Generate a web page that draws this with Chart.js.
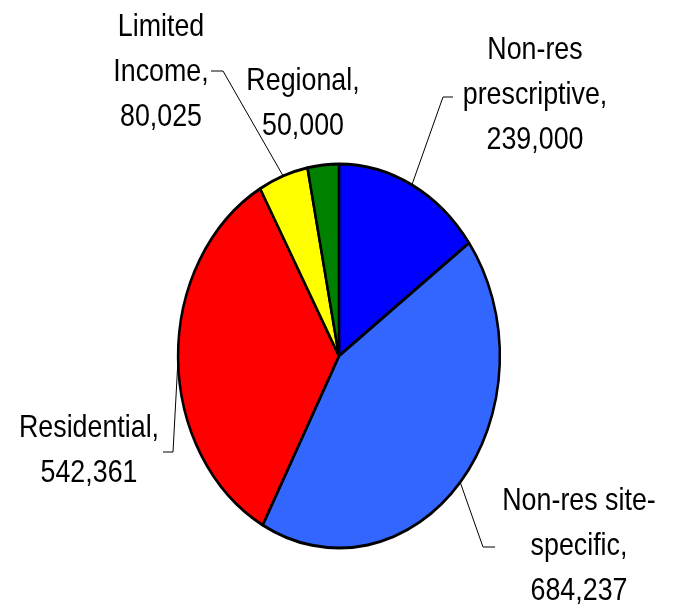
<!DOCTYPE html>
<html lang="en">
<head>
    <meta charset="UTF-8">
    <title>Program Budget Pie</title>
    <script src="https://cdn.jsdelivr.net/npm/chart.js"></script>
    <style>
        html, body { margin: 0; padding: 0; background: #fff; }
        canvas { display: block; }
    </style>
</head>
<body>
    <canvas id="pieChart" width="674" height="606"></canvas>

    <script>
        // Slices, clockwise from 12 o'clock
        const categories = ['Non-res\nprescriptive', 'Non-res site-\nspecific', 'Residential', 'Limited\nIncome', 'Regional'];
        const budgets = [239000, 684237, 542361, 80025, 50000];
        const sliceColors = ['#0000ff', '#3366ff', '#ff0000', '#ffff00', '#008000'];

        // The pie is squeezed horizontally into an ellipse
        const squeeze = 0.838;

        // Label placement: text centre x, first baseline, elbow of the leader line, end of the tick
        const labelLayout = [
            { x: 535, y: 59,  elbow: [443, 97],  tick: [453, 97] },
            { x: 579, y: 510, elbow: [483, 547], tick: [495, 547] },
            { x: 89,  y: 437, elbow: [173, 452], tick: [163, 452] },
            { x: 161, y: 36,  elbow: [223, 71],  tick: [211, 71] },
            { x: 303, y: 90,  elbow: null,       tick: null }
        ];
        const lineHeight = 45;

        const squeezePie = {
            id: 'squeezePie',
            beforeDatasetsDraw(chart) {
                chart.ctx.save();
                chart.ctx.scale(squeeze, 1);
            },
            afterDatasetsDraw(chart) {
                chart.ctx.restore();
            }
        };

        const sliceLabels = {
            id: 'sliceLabels',
            afterDraw(chart) {
                const ctx = chart.ctx;
                const arcs = chart.getDatasetMeta(0).data;
                arcs.forEach((arc, i) => {
                    const lay = labelLayout[i];
                    // leader line from the rim at the slice's middle angle
                    if (lay.elbow) {
                        const mid = (arc.startAngle + arc.endAngle) / 2;
                        const ex = (arc.x + Math.cos(mid) * arc.outerRadius) * squeeze;
                        const ey = arc.y + Math.sin(mid) * arc.outerRadius;
                        ctx.save();
                        ctx.strokeStyle = '#000';
                        ctx.lineWidth = 1;
                        ctx.beginPath();
                        ctx.moveTo(ex, ey);
                        ctx.lineTo(lay.elbow[0], lay.elbow[1]);
                        ctx.lineTo(lay.tick[0], lay.tick[1]);
                        ctx.stroke();
                        ctx.restore();
                    }
                    const text = categories[i] + ',\n' + budgets[i].toLocaleString('en-US');
                    ctx.save();
                    ctx.scale(squeeze, 1);
                    ctx.fillStyle = '#000';
                    ctx.font = '32px "Liberation Sans", Arial, sans-serif';
                    ctx.textAlign = 'center';
                    ctx.textBaseline = 'alphabetic';
                    text.split('\n').forEach((line, k) => {
                        ctx.fillText(line, lay.x / squeeze, lay.y + k * lineHeight);
                    });
                    ctx.restore();
                });
            }
        };

        const ctx = document.getElementById('pieChart').getContext('2d');
        const pieChart = new Chart(ctx, {
            type: 'pie',
            data: {
                labels: categories.map(c => c.replace('\n', ' ')),
                datasets: [{
                    data: budgets,
                    backgroundColor: sliceColors,
                    borderColor: '#000',
                    borderWidth: 3,
                    clip: false
                }]
            },
            options: {
                responsive: false,
                animation: false,
                layout: {
                    padding: { left: 211, right: 76, top: 162.5, bottom: 56.5 }
                },
                plugins: {
                    legend: { display: false },
                    tooltip: { enabled: false }
                }
            },
            plugins: [squeezePie, sliceLabels]
        });
    </script>
</body>
</html>
